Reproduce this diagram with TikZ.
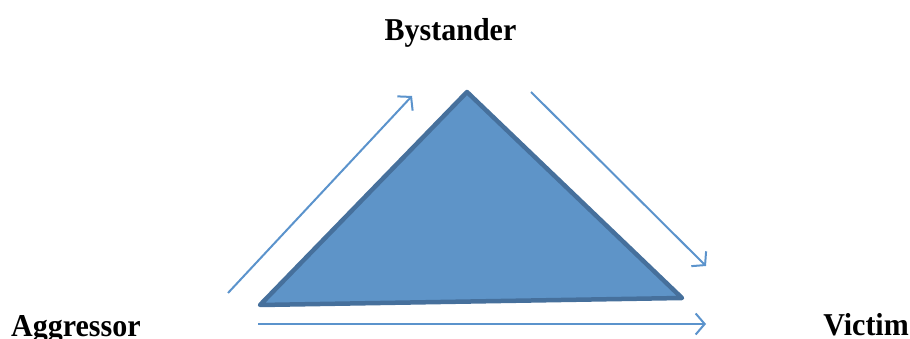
\documentclass[tikz,border=0pt]{standalone}
\usepackage{fontspec}
\setmainfont{Liberation Serif}
\usetikzlibrary{arrows.meta}
\definecolor{triFill}{HTML}{5E94C8}
\definecolor{triEdge}{HTML}{46709C}
\definecolor{arrCol}{HTML}{5B93CC}
\tikzset{
  lbl/.style={font=\fontsize{30}{36}\selectfont\bfseries, inner sep=0pt},
  flow/.style={draw=arrCol, line width=2pt, -{Straight Barb[length=9pt,width=21pt,line width=2pt]}},
  tri/.style={fill=triFill, draw=triEdge, line width=4.5pt, line join=round}
}
\begin{document}
\begin{tikzpicture}[x=1pt,y=1pt]
\useasboundingbox (0,0) rectangle (910,339);
\node[lbl, anchor=base] (by) at (450.5,298) {\scalebox{1}[1.06]{Bystander}};
\node[lbl, anchor=base west] (ag) at (11,2) {\scalebox{1}[1.06]{Aggressor}};
\node[lbl, anchor=base east] (vi) at (909,3) {\scalebox{1}[1.06]{Victim}};
\coordinate (top) at (467,247);
\coordinate (left) at (260,34);
\coordinate (right) at (682,41);
\draw[tri] (left) -- (top) -- (right) -- cycle;
\coordinate (a1s) at (228,46);
\coordinate (a1e) at (412,243);
\coordinate (a2s) at (531,247);
\coordinate (a2e) at (706,73);
\coordinate (a3s) at (258,15);
\coordinate (a3e) at (706,15);
\draw[flow] (a1s) -- (a1e);
\draw[flow] (a2s) -- (a2e);
\draw[flow] (a3s) -- (a3e);
\end{tikzpicture}
\end{document}
